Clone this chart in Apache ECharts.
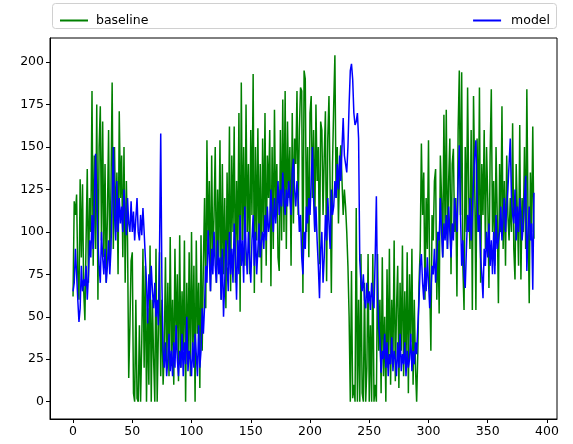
<!DOCTYPE html>
<html><head><meta charset="utf-8">
<script src="https://cdn.jsdelivr.net/npm/echarts@6/dist/echarts.min.js"></script>
<style>html,body{margin:0;padding:0;background:#fff}#c{width:573px;height:444px}</style>
</head><body><div id="c"></div>
<script>
const seriesNames = ['baseline', 'model'];
const xTicks = [0, 50, 100, 150, 200, 250, 300, 350, 400];
const yTicks = [0, 25, 50, 75, 100, 125, 150, 175, 200];
const baseline = [
62,118,110,122,75,60,131,85,128,65,
48,95,137,70,120,100,183,80,145,90,
175,60,150,174,95,165,85,140,70,110,
160,80,125,188,90,150,100,135,75,171,
120,145,85,150,70,130,95,14,45,83,
88,5,0,60,2,0,45,0,35,90,
20,80,0,55,10,92,0,60,25,0,
90,0,40,88,15,60,10,30,85,20,
70,15,97,25,60,10,90,35,75,12,
98,20,65,30,95,0,70,22,88,15,
100,25,80,0,95,40,70,8,98,30,
82,120,55,154,90,130,65,145,80,110,
150,70,125,85,154,60,140,75,120,55,
135,80,162,65,145,100,162,70,130,90,
170,53,188,95,150,80,175,100,140,75,
160,110,193,64,150,95,161,85,140,70,
155,100,170,80,145,120,160,68,150,90,
172,110,140,85,77,160,95,178,100,183,
90,165,120,150,80,170,105,155,140,183,
110,160,185,183,64,195,190,100,150,85,
170,180,120,160,100,175,130,150,81,165,
160,110,145,171,71,155,180,125,64,140,
175,204,120,150,105,140,151,130,110,125,
115,100,80,50,0,77,2,10,0,114,
0,60,0,87,5,0,70,0,20,87,
0,45,0,87,0,10,0,87,30,60,
5,85,15,50,0,78,20,90,10,60,
25,95,12,55,80,8,70,30,92,15,
65,20,88,5,75,35,90,10,60,20,
0,30,70,90,152,110,135,60,120,90,
154,70,30,110,95,130,137,60,100,52,
145,120,85,169,100,172,90,130,155,75,
140,149,100,120,62,160,195,110,194,80,
54,150,100,185,120,90,160,54,180,130,
54,155,100,185,70,140,110,160,90,150,
120,67,145,184,100,130,80,150,110,58,
140,100,174,90,130,80,145,110,95,120,
100,164,90,72,140,110,80,163,72,120,
100,150,90,184,110,58,135,100,162,96
];
const model = [
65,70,90,75,60,47,55,80,65,72,
68,80,60,75,95,85,110,90,120,146,
120,95,80,70,100,85,75,90,70,80,
95,75,90,120,150,110,95,130,100,120,
105,115,100,125,110,98,120,105,100,118,
100,112,95,108,120,100,95,110,98,114,
100,85,70,46,75,60,80,65,55,70,
50,60,45,90,158,70,30,20,35,15,
25,40,18,30,15,35,20,45,25,15,
30,20,40,15,35,22,50,18,30,25,
15,35,20,40,28,15,45,20,30,55,
40,56,80,70,101,85,65,90,75,100,
80,70,95,75,85,60,90,50,70,95,
80,65,100,75,90,70,105,85,60,95,
75,110,80,95,70,115,90,75,100,85,
70,95,110,80,100,75,90,105,85,95,
100,90,110,95,115,100,105,125,110,100,
120,105,115,130,110,125,115,135,120,110,
125,115,130,120,110,135,143,125,115,130,
120,100,110,85,75,100,90,115,105,120,
110,130,150,120,100,115,95,80,61,90,
100,70,85,110,95,120,105,90,125,110,
115,130,120,140,125,145,130,150,167,145,
140,135,150,175,195,199,190,170,163,165,
170,155,83,70,65,75,60,55,70,58,
65,54,70,60,55,85,121,60,45,36,
17,30,25,40,20,35,15,28,22,38,
18,30,25,15,35,20,40,18,28,22,
35,15,30,20,25,40,18,30,22,35,
28,45,60,80,87,70,60,79,65,85,
70,55,65,80,75,90,70,85,100,95,
120,100,85,105,95,110,90,115,100,85,
105,95,120,110,100,130,151,110,80,95,
75,67,90,110,100,120,95,110,130,145,
154,120,100,110,85,75,61,90,80,100,
85,105,80,95,75,100,75,110,90,95,
100,115,95,110,120,100,115,125,140,155,
120,110,105,125,95,115,100,120,110,95,
105,120,133,77,100,115,95,105,66,123
];

const toPairs = arr => arr.map((v, i) => [i, v]);
const n = baseline.length;
const xPad = (n - 1) * 0.05;
const allVals = baseline.concat(model);
const yMinD = Math.min(...allVals), yMaxD = Math.max(...allVals);
const yPad = (yMaxD - yMinD) * 0.05;

const chart = echarts.init(document.getElementById('c'), null, {renderer: 'canvas'});
const font = 'DejaVu Sans';
chart.setOption({
  animation: false,
  backgroundColor: '#fff',
  grid: {left: 50, right: 16, top: 38, bottom: 25, show: true, borderColor: '#000', borderWidth: 1, containLabel: false},
  graphic: [{
    type: 'rect', left: 52, top: 3, z: -1,
    shape: {width: 504, height: 25, r: 3},
    style: {fill: '#fff', stroke: '#d0d0d0', lineWidth: 1}
  }],
  legend: [
    {data: [seriesNames[0]], left: 55, top: 9, itemWidth: 28, itemHeight: 2, icon: 'rect',
     textStyle: {fontFamily: font, fontSize: 12.5, color: '#000', padding: [0, 0, 0, 3]}},
    {data: [seriesNames[1]], right: 18, top: 9, itemWidth: 28, itemHeight: 2, icon: 'rect',
     textStyle: {fontFamily: font, fontSize: 12.5, color: '#000', padding: [0, 0, 0, 5]}}
  ],
  xAxis: {
    type: 'value', min: -xPad, max: (n - 1) + xPad,
    splitLine: {show: false},
    axisLine: {show: true, onZero: false, lineStyle: {color: '#000', width: 1}},
    axisTick: {show: true, length: 4, lineStyle: {color: '#000'}, customValues: xTicks},
    axisLabel: {fontFamily: font, fontSize: 12.5, color: '#000', margin: 6, customValues: xTicks}
  },
  yAxis: {
    type: 'value', min: yMinD - yPad, max: yMaxD + yPad,
    splitLine: {show: false},
    axisLine: {show: true, onZero: false, lineStyle: {color: '#000', width: 1}},
    axisTick: {show: true, length: 4, lineStyle: {color: '#000'}, customValues: yTicks},
    axisLabel: {fontFamily: font, fontSize: 12.5, color: '#000', margin: 6, customValues: yTicks}
  },
  series: [
    {name: seriesNames[0], type: 'line', data: toPairs(baseline), showSymbol: false, symbol: 'none',
     lineStyle: {color: '#008000', width: 1.5}, itemStyle: {color: '#008000'}, z: 2},
    {name: seriesNames[1], type: 'line', data: toPairs(model), showSymbol: false, symbol: 'none',
     lineStyle: {color: '#0000ff', width: 1.5}, itemStyle: {color: '#0000ff'}, z: 3}
  ]
});
</script></body></html>
